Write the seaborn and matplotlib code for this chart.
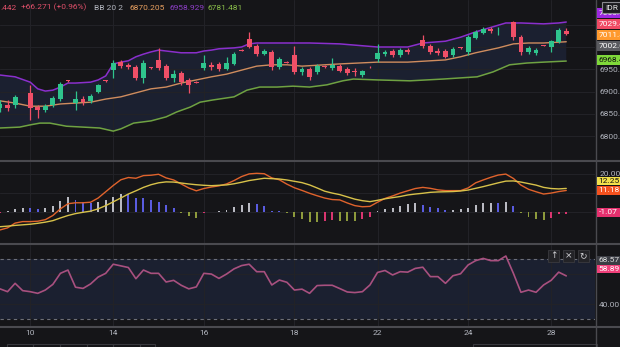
import numpy as np
import matplotlib
matplotlib.use("Agg")
import matplotlib.pyplot as plt
import seaborn as sns
from matplotlib.patches import Rectangle
from matplotlib.lines import Line2D

nan = np.nan

# ---- USD/IDR 4-hour candles ----
opens = [6863, 6870, 6870, nan, 6897, 6865, 6858, 6870, 6883, 6924,
         6874, 6883, 6879, 6899, 6924, 6948, 6966, 6960, 6955, 6930,
         6953, 6971, 6957, 6930, 6942, 6926, 6921, 6953, 6960, 6962,
         6951, 6962, 6993, 7018, 7002, 6984, 6989, 6955, 6966, 6982,
         6944, 6951, 6944, 6957, 6953, 6957, 6951, 6945, 6937, 6955,
         6973, 6984, 6991, 6982, 6993, nan, 7016, 7002, 6991, 6991,
         6982, 6998, 6989, 7020, 7031, 7040, 7035, nan, 7056, 7022,
         6989, 6987, 7004, 7000, 7011, 7036]
highs = [6881, 6881, 6892, nan, 6915, 6870, 6872, 6890, 6921, 6926,
         6901, 6890, 6894, 6917, 6926, 6971, 6971, 6964, 6960, 6971,
         6955, 6998, 6962, 6948, 6946, 6930, 6923, 6982, 6966, 6966,
         6978, 6989, 6995, 7034, 7007, 6996, 6993, 6978, 6968, 7002,
         6955, 6955, 6962, 6960, 6975, 6962, 6955, 6953, 6948, 6957,
         7007, 6993, 6996, 6998, 6998, nan, 7027, 7007, 6998, 6996,
         7000, 7000, 7027, 7038, 7045, 7045, 7045, nan, 7058, 7027,
         7002, 6998, 7005, 7016, 7043, 7043]
lows = [6854, 6856, 6863, nan, 6836, 6840, 6854, 6865, 6879, 6921,
        6858, 6870, 6874, 6897, 6921, 6930, 6953, 6951, 6926, 6919,
        6951, 6948, 6926, 6921, 6915, 6897, 6919, 6948, 6948, 6946,
        6948, 6960, 6991, 6998, 6980, 6982, 6948, 6951, 6964, 6939,
        6937, 6926, 6939, 6953, 6948, 6944, 6937, 6935, 6933, 6953,
        6966, 6980, 6978, 6978, 6984, nan, 6998, 6984, 6982, 6975,
        6978, 6996, 6982, 7018, 7029, 7031, 7027, nan, 7016, 6982,
        6984, 6982, 7002, 6989, 7009, 7027]
closes = [6872, 6863, 6888, nan, 6863, 6858, 6867, 6885, 6917, 6923,
          6883, 6876, 6890, 6915, 6923, 6964, 6957, 6955, 6930, 6964,
          6952, 6953, 6930, 6939, 6921, 6915, 6920, 6964, 6955, 6951,
          6964, 6984, 6992, 7000, 6984, 6991, 6955, 6973, 6965, 6944,
          6951, 6933, 6957, 6956, 6960, 6946, 6942, 6943, 6946, 6954,
          6987, 6989, 6982, 6993, 6989, nan, 7002, 6989, 6987, 6978,
          6996, 6997, 7022, 7034, 7040, 7036, 7036, nan, 7022, 6989,
          6998, 6993, 7003, 7013, 7038, 7029.442]

# ---- Bollinger Bands (20, 2) ----
bb_upper_x = [0, 2, 4, 5, 6, 7, 8, 9, 10, 12, 13, 14, 15, 16, 17, 18, 19, 20, 21, 22,
              23, 24, 26, 27, 28, 29, 31, 32, 33, 34, 39, 41, 45, 50, 54, 56, 59, 61,
              63, 66, 67, 69, 72, 74, 75]
bb_upper = [6937, 6933, 6921, 6906, 6901, 6903, 6910, 6919, 6919, 6921, 6926, 6935,
            6962, 6966, 6969, 6978, 6984, 6989, 6993, 6991, 6989, 6987, 6987, 6991,
            6993, 6996, 6998, 7000, 7007, 7009, 7009, 7009, 7007, 7000, 7000, 7009,
            7013, 7022, 7034, 7049, 7054, 7054, 7052, 7054, 7056.1]
bb_basis_x = [0, 2, 4, 6, 8, 10, 12, 14, 16, 18, 20, 22, 24, 26, 28, 30, 32, 34, 36,
              38, 40, 45, 50, 54, 59, 61, 63, 66, 68, 70, 72, 75]
bb_basis = [6879, 6874, 6867, 6867, 6872, 6874, 6876, 6883, 6888, 6897, 6906, 6910,
            6919, 6926, 6933, 6939, 6948, 6957, 6960, 6960, 6957, 6962, 6966, 6966,
            6971, 6978, 6987, 6998, 7007, 7009, 7009, 7011.8]
bb_lower_x = [0, 2.6, 4, 5.3, 6.6, 8.8, 11, 13.2, 15, 16, 17.7, 20, 22, 23.4, 25.2,
              26.5, 28.2, 31, 32.7, 34.4, 36.7, 38.8, 41, 43.3, 45.4, 46.8, 50, 54.3,
              58.7, 63.2, 65.3, 67.5, 69.8, 72, 75]
bb_lower = [6818, 6820, 6825, 6829, 6829, 6822, 6820, 6818, 6811, 6816, 6829, 6834,
            6843, 6854, 6865, 6876, 6881, 6888, 6903, 6910, 6910, 6912, 6910, 6915,
            6924, 6928, 6926, 6924, 6928, 6933, 6944, 6960, 6964, 6966, 6968.4]

# ---- MACD (line, signal, histogram) ----
macd = [-9.6, -8.5, -6.0, -5.2, -5.2, -5.0, -4.2, -2.0, 1.5, 4.2,
        4.7, 4.7, 5.0, 7.2, 10.5, 13.8, 16.8, 18.0, 17.6, 19.0,
        19.2, 19.7, 17.8, 16.7, 14.6, 12.5, 11.0, 12.2, 13.0, 13.6,
        14.6, 16.4, 18.5, 19.9, 20.2, 20.0, 17.8, 16.8, 14.5, 12.6,
        11.2, 9.7, 8.4, 7.2, 6.4, 6.2, 4.6, 3.2, 2.6, 2.8,
        5.0, 7.0, 8.3, 9.8, 11.0, 12.2, 12.8, 12.3, 11.5, 11.1,
        11.1, 11.1, 12.5, 15.2, 16.7, 18.1, 19.3, 19.8, 17.5, 14.0,
        11.8, 10.5, 9.3, 9.8, 10.6, 11.18]
signal = [-7.9, -7.6, -7.2, -6.9, -6.6, -6.1, -5.5, -4.7, -3.3, -2.0,
          -1.0, -0.3, 0.3, 1.5, 3.2, 5.2, 7.2, 9.3, 11.0, 12.8,
          14.2, 15.2, 15.7, 15.6, 15.1, 14.6, 14.2, 13.9, 13.7, 13.9,
          14.1, 14.7, 15.5, 16.4, 17.0, 17.6, 17.4, 17.2, 16.7, 16.0,
          15.3, 14.1, 12.5, 10.8, 9.8, 9.0, 7.8, 6.6, 5.8, 5.3,
          6.0, 6.8, 7.4, 8.0, 8.8, 9.3, 9.7, 10.2, 10.4, 10.5,
          10.6, 10.9, 11.4, 12.3, 13.2, 14.2, 15.2, 16.1, 16.2, 15.6,
          14.8, 14.0, 12.8, 12.2, 12.0, 12.25]
hist = [-0.5, 0.5, 1.2, 1.8, 1.8, 1.4, 1.8, 3.0, 5.8, 7.5,
        6.1, 5.3, 4.4, 5.3, 6.1, 7.9, 9.3, 9.1, 7.0, 7.0,
        6.1, 4.9, 3.5, 1.8, -0.5, -2.3, -3.5, -0.9, -0.3, 0.3,
        0.9, 2.6, 3.5, 4.4, 3.9, 3.0, 0.5, 0.3, -0.9, -3.0,
        -4.0, -5.3, -5.3, -4.9, -4.4, -4.8, -4.9, -5.0, -4.0, -3.0,
        0.5, 1.2, 1.8, 3.0, 4.0, 4.4, 3.5, 2.6, 1.8, 0.9,
        1.0, 1.2, 1.8, 3.5, 4.4, 4.7, 4.6, 5.3, 3.0, -0.9,
        -2.6, -4.0, -4.4, -3.5, -1.2, -1.07]

# ---- RSI ----
rsi = [50.2, 48.3, 53.9, 49.0, 48.3, 47.2, 49.4, 53.2, 60.6, 62.8,
       51.3, 50.5, 53.5, 58.1, 60.6, 66.7, 65.6, 64.5, 57.0, 62.8,
       60.6, 60.6, 54.8, 55.9, 52.6, 50.2, 51.5, 60.6, 60.1, 57.2,
       60.1, 63.6, 65.8, 66.7, 61.7, 61.7, 52.8, 56.1, 54.6, 49.4,
       50.0, 47.2, 52.4, 52.6, 52.6, 50.4, 48.1, 47.7, 48.3, 52.8,
       61.2, 62.5, 59.5, 61.7, 61.4, 63.9, 64.7, 58.4, 58.4, 53.9,
       59.0, 60.3, 66.2, 69.1, 70.6, 69.1, 69.1, 72.2, 60.6, 47.9,
       49.4, 47.9, 52.8, 55.9, 61.4, 58.89]
rsi_ma_last = 68.57
prev_close = 7002.0

# ---- axis labels ----
date_labels = ["10", "14", "16", "18", "22", "24", "28"]
date_pos = [4, 15, 27, 39, 50, 62, 73]
price_ticks = [6800, 6850, 6900, 6950]
header = [(".442", "#e0506a"), ("+66.271 (+0.96%)", "#e0506a"), ("BB 20 2", "#b2b5be"),
          ("6870.205", "#e8a060"), ("6958.929", "#8e3fc8"), ("6781.481", "#8bbf4a")]
header_x = [0, 21, 94, 129, 169, 207]

W, H = 620, 347
BG = "#151518"
GRID = "#222227"
TXT = "#b2b5be"
SEP = "#4a4a4f"
UP, DOWN = "#2fc48d", "#ef4f67"

sns.set_theme(style="dark", rc={"figure.facecolor": BG, "axes.facecolor": BG,
                                "savefig.facecolor": BG, "axes.grid": False})
plt.rcParams["font.family"] = ["Roboto", "DejaVu Sans"]

fig = plt.figure(figsize=(W / 100, H / 100), dpi=100)


def rect(top, bottom, left=0, right=595):
    return [left / W, 1 - bottom / H, (right - left) / W, (bottom - top) / H]


ax_p = fig.add_axes(rect(0, 160))
ax_m = fig.add_axes(rect(162, 243))
ax_r = fig.add_axes(rect(245, 326))

XMAX = 595 / 7.55
idx = np.arange(len(closes))

for ax in (ax_p, ax_m, ax_r):
    ax.set_facecolor(BG)
    for s in ax.spines.values():
        s.set_visible(False)
    ax.set_xlim(0, XMAX)
    ax.set_xticks(date_pos)
    ax.yaxis.tick_right()
    ax.tick_params(axis="both", length=0, labelsize=6, labelcolor=TXT, pad=3)
    ax.grid(True, color=GRID, lw=0.8)
    ax.set_axisbelow(True)
ax_p.tick_params(labelbottom=False)
ax_m.tick_params(labelbottom=False)
ax_r.set_xticklabels(date_labels)

# ---- price panel ----
ax_p.set_ylim(6746.1, 7105.6)
ax_p.set_yticks(price_ticks + [7000, 7050])
ax_p.set_yticklabels([f"{v:.3f}" for v in price_ticks] + ["", ""])

ax_p.fill(np.r_[bb_upper_x, bb_lower_x[::-1]], np.r_[bb_upper, bb_lower[::-1]],
          color="#1b2030", lw=0, zorder=0.5)
sns.lineplot(x=bb_upper_x, y=bb_upper, ax=ax_p, color="#8a2fcc", linewidth=1.1, legend=False)
sns.lineplot(x=bb_basis_x, y=bb_basis, ax=ax_p, color="#cf8c5e", linewidth=1.0, legend=False)
sns.lineplot(x=bb_lower_x, y=bb_lower, ax=ax_p, color="#6fa242", linewidth=1.1, legend=False)

o = np.array(opens, float)
h = np.array(highs, float)
l = np.array(lows, float)
c = np.array(closes, float)
ok = ~np.isnan(o)
col = np.where(c >= o, UP, DOWN)
ax_p.vlines(idx[ok], l[ok], h[ok], colors=col[ok], lw=0.9, zorder=3)
body_lo = np.minimum(o, c)[ok]
body_h = np.maximum(np.abs(c - o)[ok], 2.0)
ax_p.bar(idx[ok], body_h, bottom=body_lo, width=0.64, color=col[ok], lw=0, zorder=4)

# ---- MACD panel ----
ax_m.set_ylim(-16.47, 26.16)
ax_m.set_yticks([0, 10, 20])
ax_m.set_yticklabels(["", "", "20.00"])
hist_col = []
prev = -1.0
for v in hist:
    if v >= 0:
        hist_col.append("#b9bac2" if v > prev else "#5a5ce0")
    else:
        hist_col.append("#d9356f" if v > prev else "#8d9a3c")
    prev = v
ax_m.bar(idx, hist, width=0.26, color=hist_col, lw=0, zorder=2)
sns.lineplot(x=idx, y=macd, ax=ax_m, color="#e0632c", linewidth=1.0, legend=False)
sns.lineplot(x=idx, y=signal, ax=ax_m, color="#d8c24a", linewidth=1.0, legend=False)

# ---- RSI panel ----
ax_r.set_ylim(25.31, 79.58)
ax_r.set_yticks([40, 60])
ax_r.set_yticklabels(["40.00", ""])
ax_r.axhspan(30, 70, color="#1b2030", lw=0, zorder=0.5)
for lvl in (70, 30):
    ax_r.axhline(lvl, color="#6d6f78", lw=0.8, ls=(0, (3, 3)), zorder=1)
sns.lineplot(x=idx, y=rsi, ax=ax_r, color="#a8507f", linewidth=1.2, legend=False)

for ax in (ax_p, ax_m, ax_r):
    ax.set_xlabel("")
    ax.set_ylabel("")

# ---- separators ----
for yy in (161, 244, 327):
    fig.add_artist(Line2D([0, 1], [1 - yy / H] * 2, color=SEP, lw=1.5))
fig.add_artist(Line2D([595.5 / W] * 2, [0, 1], color=SEP, lw=1))

# ---- header legend ----
for (txt, cl), xx in zip(header, header_x):
    fig.text(xx / W, 1 - 7.5 / H, txt, color=cl, fontsize=6, va="center", ha="left")


def tag(top, bottom, text, bg, fg="#ffffff", left=597):
    fig.add_artist(Rectangle((left / W, 1 - bottom / H), (W - left) / W, (bottom - top) / H,
                             transform=fig.transFigure, facecolor=bg, edgecolor="none", zorder=5))
    fig.text((left + 1.5) / W, 1 - ((top + bottom) / 2) / H, text, color=fg, fontsize=6,
             va="center", ha="left", zorder=6)


# price scale tags
tag(8, 18, f"{bb_upper[-1]:.3f}", "#9c27e0")
tag(19, 29, f"{closes[-1]:.3f}", "#f04a64")
tag(30, 40, f"{bb_basis[-1]:.3f}", "#ff9a2e")
tag(41, 51, f"{prev_close:.3f}", "#5a5b60")
tag(55, 65, f"{bb_lower[-1]:.3f}", "#7fd83a", fg="#111111")
fig.add_artist(Rectangle((602 / W, 1 - 13 / H), 20 / W, 11 / H, transform=fig.transFigure,
                         facecolor="#1c1c20", edgecolor="#8a8a90", lw=0.8, zorder=7))
fig.text(605 / W, 1 - 7.5 / H, "IDR", color="#e6e6e6", fontsize=6, va="center", zorder=8)

# MACD tags
tag(177, 185, f"{signal[-1]:.2f}", "#f2e04a", fg="#111111")
tag(186, 195, f"{macd[-1]:.2f}", "#f4511e")
tag(208, 217, f"{hist[-1]:.2f}", "#e5306e")

# RSI tags
tag(256, 265, f"{rsi_ma_last:.2f}", "#3a3c43", fg="#dddddd")
tag(265, 273, f"{rsi[-1]:.2f}", "#f0407a")

# pane buttons
for (x0, glyph) in zip([548, 563, 578], ["\u2191", "\u00d7", "\u21bb"]):
    fig.add_artist(Rectangle((x0 / W, 1 - 262 / H), 11 / W, 12 / H, transform=fig.transFigure,
                             facecolor="#232327", edgecolor="#3a3a3f", lw=0.6, zorder=5))
    fig.text((x0 + 5.5) / W, 1 - 256 / H, glyph, color="#d0d0d4", fontsize=6.5,
             ha="center", va="center", family=["DejaVu Sans"], zorder=6)

# bottom toolbar edge
for x0, x1 in [(7, 33), (33, 60), (60, 87), (87, 113), (113, 140), (140, 155), (473, 597)]:
    fig.add_artist(Rectangle((x0 / W, 1 - 352 / H), (x1 - x0) / W, 8 / H, transform=fig.transFigure,
                             facecolor="none", edgecolor="#38383d", lw=0.8))

fig.savefig("out.png", dpi=100)
